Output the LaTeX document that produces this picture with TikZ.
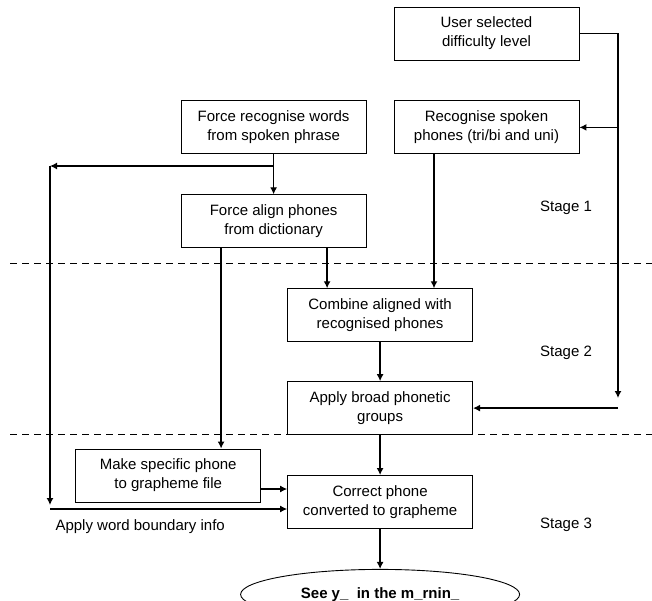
\documentclass[tikz,border=0pt]{standalone}
\usepackage{fontspec}
\setmainfont{Liberation Sans}
\usetikzlibrary{arrows.meta,positioning,shapes.geometric}

\begin{document}
\begin{tikzpicture}[
x=1pt, y=1pt,
stepnode/.style={rectangle, draw=black, line width=0.9pt, minimum width=185pt, minimum height=53pt, inner sep=2pt, font=\fontsize{15}{19}\selectfont},
resultnode/.style={ellipse, draw=black, line width=0.9pt, minimum width=279pt, minimum height=50pt, font=\fontsize{15}{19}\selectfont\bfseries},
stagetext/.style={font=\fontsize{15}{19}\selectfont},
link/.style={-{Latex[length=7pt,width=7pt]}, line width=1.3pt},
boundary/.style={dash pattern=on 7pt off 5pt, line width=0.9pt},
nodes = {align = center},
node distance=40pt
]
\clip (0,0) rectangle (652,-601);

%Nodes
\node[stepnode]   (user) at (486.5,-33.5)
                  {User selected\\difficulty level};
\node[stepnode]   (recspoken) [below=of user]
                  {Recognise spoken\\phones (tri/bi and uni)};
\node[stepnode]   (forcerec) [left=27pt of recspoken]
                  {Force recognise words\\from spoken phrase};
\node[stepnode]   (forcealign) [below=of forcerec]
                  {Force align phones\\from dictionary};
\node[stepnode]   (combine) [below=of forcealign, xshift=106.5pt]
                  {Combine aligned with\\recognised phones};
\node[stepnode]   (broad) [below=39pt of combine]
                  {Apply broad phonetic\\groups};
\node[stepnode]   (correct) [below=of broad]
                  {Correct phone\\converted to grapheme};
\node[stepnode]   (makespec) [left=26pt of correct, yshift=26.5pt]
                  {Make specific phone\\to grapheme file};
\node[resultnode] (result) [below=of correct]
                  {See y\_\ \ in the m\_rnin\_};

\node[stagetext]  (stage1) at (566,-208) {Stage 1};
\node[stagetext]  (stage2) at (566,-353) {Stage 2};
\node[stagetext]  (stage3) at (566,-525) {Stage 3};
\node[stagetext, anchor=west] (wordinfo) at (52,-527) {Apply word boundary info};

%Points
\coordinate (rtop) at (618,-33.5);
\coordinate (rbot) at (618,-398);
\coordinate (ltop) at (50,-166);
\coordinate (lbot) at (50,-505);
\coordinate (lend) at (50,-509);
\coordinate (fa1) at ([xshift=-52.5pt]forcealign.south);
\coordinate (fa2) at ([xshift=53.5pt]forcealign.south);
\coordinate (rs1) at ([xshift=-52.5pt]recspoken.south);
\coordinate (ms1) at ([yshift=-13.5pt]makespec.east);

%Lines
\draw[boundary] (10,-263) -- (652,-263);
\draw[boundary] (10,-434) -- (652,-434);

\draw[link] (user.east) -- (rtop) -- (rbot);
\draw[link] (rtop |- recspoken.east) -- (recspoken.east);
\draw[link] (rbot |- broad.east) -- (broad.east);

\draw[link] (forcerec) -- (forcealign);
\draw[link] (forcerec.south |- ltop) -- (ltop);
\draw[link] (ltop) -- (lbot);
\draw[link] (lend) -- (lend -| correct.west);

\draw[link] (fa1) -- (fa1 |- makespec.north);
\draw[link] (fa2) -- (fa2 |- combine.north);
\draw[link] (rs1) -- (rs1 |- combine.north);
\draw[link] (combine) -- (broad);
\draw[link] (broad) -- (correct);
\draw[link] (ms1) -- (ms1 -| correct.west);
\draw[link] (correct) -- (result);

\end{tikzpicture}
\end{document}
